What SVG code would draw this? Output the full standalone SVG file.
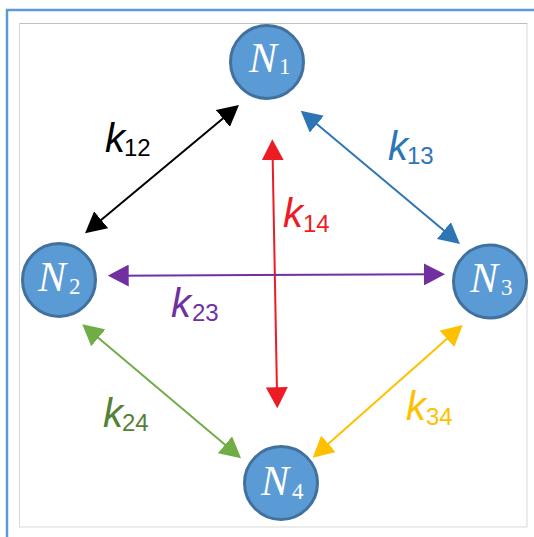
<svg xmlns="http://www.w3.org/2000/svg" width="534" height="537" viewBox="0 0 534 537">
<style>
.node circle{fill:#5b9bd5;stroke:#41719c;stroke-width:3}
.nl{font-family:"Liberation Serif",serif;font-style:italic;font-size:42px;fill:#fff}
.ns{font-family:"Liberation Serif",serif;font-style:normal;font-size:23px;fill:#fff}
.conn line{stroke-width:2;fill:none}
.kl{font-family:"Liberation Sans",Arial,sans-serif;font-style:italic;font-size:40px}
.ks{font-family:"Liberation Sans",Arial,sans-serif;font-style:normal;font-size:24px}
</style>
<defs>
<marker id="mk" viewBox="0 0 21 22" refX="11" refY="11" markerWidth="21" markerHeight="22" markerUnits="userSpaceOnUse" orient="auto-start-reverse"><path d="M0,0 L21,11 L0,22 z" fill="#000"/></marker>
<marker id="mb" viewBox="0 0 21 22" refX="11" refY="11" markerWidth="21" markerHeight="22" markerUnits="userSpaceOnUse" orient="auto-start-reverse"><path d="M0,0 L21,11 L0,22 z" fill="#2e75b6"/></marker>
<marker id="mr" viewBox="0 0 21 22" refX="11" refY="11" markerWidth="21" markerHeight="22" markerUnits="userSpaceOnUse" orient="auto-start-reverse"><path d="M0,0 L21,11 L0,22 z" fill="#ed1c24"/></marker>
<marker id="mp" viewBox="0 0 21 22" refX="11" refY="11" markerWidth="21" markerHeight="22" markerUnits="userSpaceOnUse" orient="auto-start-reverse"><path d="M0,0 L21,11 L0,22 z" fill="#7030a0"/></marker>
<marker id="mg" viewBox="0 0 21 22" refX="11" refY="11" markerWidth="21" markerHeight="22" markerUnits="userSpaceOnUse" orient="auto-start-reverse"><path d="M0,0 L21,11 L0,22 z" fill="#70ad47"/></marker>
<marker id="my" viewBox="0 0 21 22" refX="11" refY="11" markerWidth="21" markerHeight="22" markerUnits="userSpaceOnUse" orient="auto-start-reverse"><path d="M0,0 L21,11 L0,22 z" fill="#ffc000"/></marker>
</defs>
<rect width="534" height="537" fill="#fff"/>
<path d="M7,537 V10 H534" fill="none" stroke="#5b9bd5" stroke-width="2.5"/>
<rect x="19.5" y="23.5" width="507.5" height="503.5" fill="#fff" stroke="#d9d9d9" stroke-width="1"/>
<line x1="19.5" y1="23.5" x2="527" y2="23.5" stroke="#bfbfbf" stroke-width="1"/>
<g id="connectors" class="conn">
<line x1="231.3" y1="111.4" x2="92.7" y2="226.9" stroke="#000" marker-start="url(#mk)" marker-end="url(#mk)"/>
<line x1="308.4" y1="117.1" x2="452.3" y2="237.6" stroke="#2e75b6" marker-start="url(#mb)" marker-end="url(#mb)"/>
<line x1="272.5" y1="149.3" x2="277.1" y2="398.3" stroke="#ed1c24" marker-start="url(#mr)" marker-end="url(#mr)"/>
<line x1="117.7" y1="275.66" x2="435" y2="274.34" stroke="#7030a0" marker-start="url(#mp)" marker-end="url(#mp)"/>
<line x1="89.9" y1="330.75" x2="233.4" y2="451.85" stroke="#70ad47" marker-start="url(#mg)" marker-end="url(#mg)"/>
<line x1="455.2" y1="331.6" x2="320.2" y2="451.1" stroke="#ffc000" marker-start="url(#my)" marker-end="url(#my)"/>
</g>
<g id="labels">
<text x="105" y="152" fill="#000"><tspan class="kl">k</tspan><tspan class="ks" x="124" y="155.5">12</tspan></text>
<text x="388" y="160" fill="#2e75b6"><tspan class="kl">k</tspan><tspan class="ks" x="407" y="164">13</tspan></text>
<text x="283" y="227" fill="#ed1c24"><tspan class="kl">k</tspan><tspan class="ks" x="303" y="232">14</tspan></text>
<text x="171" y="317" fill="#7030a0"><tspan class="kl">k</tspan><tspan class="ks" x="192" y="320.5">23</tspan></text>
<text x="103" y="427" fill="#548235"><tspan class="kl">k</tspan><tspan class="ks" x="122" y="430.5">24</tspan></text>
<text x="406" y="420" fill="#ffc000"><tspan class="kl">k</tspan><tspan class="ks" x="426" y="425">34</tspan></text>
</g>
<g id="N1" class="node"><circle cx="267" cy="62" r="36.5"/><text x="249" y="72" class="nl">N<tspan class="ns" x="279" y="74">1</tspan></text></g>
<g id="N2" class="node"><circle cx="59" cy="280" r="36.5"/><text x="38" y="291" class="nl">N<tspan class="ns" x="69" y="293.5">2</tspan></text></g>
<g id="N3" class="node"><circle cx="490" cy="281.5" r="36.5"/><text x="470" y="292" class="nl">N<tspan class="ns" x="501" y="294.5">3</tspan></text></g>
<g id="N4" class="node"><circle cx="281" cy="483" r="36.5"/><text x="261" y="495" class="nl">N<tspan class="ns" x="292" y="499">4</tspan></text></g>
</svg>
